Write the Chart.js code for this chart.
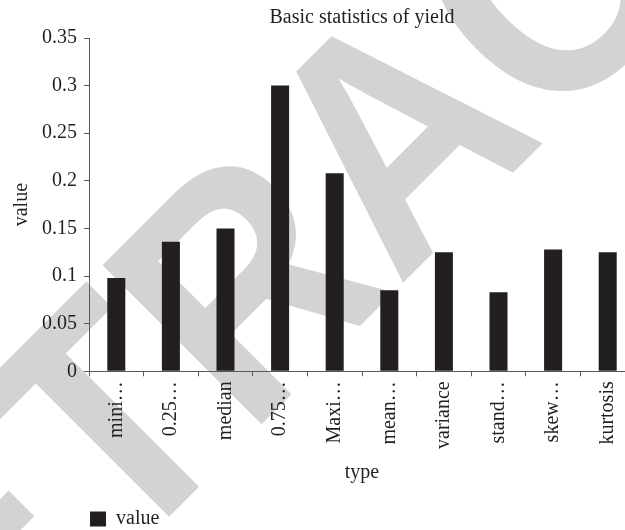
<!DOCTYPE html>
<html>
<head>
<meta charset="utf-8">
<script src="https://cdn.jsdelivr.net/npm/chart.js@4.4.1/dist/chart.umd.min.js"></script>
<style>
  html, body { margin: 0; padding: 0; background: #ffffff; overflow: hidden; width: 625px; height: 530px; }
  canvas { display: block; }
</style>
</head>
<body>
<canvas id="c" width="640" height="530"></canvas>
<script>
// ---- data ----
const categories = ['mini…', '0.25…', 'median', '0.75…', 'Maxi…', 'mean…', 'variance', 'stand…', 'skew…', 'kurtosis'];
const values = [0.098, 0.136, 0.150, 0.300, 0.208, 0.085, 0.125, 0.083, 0.128, 0.125];
const yTicks = [0, 0.05, 0.1, 0.15, 0.2, 0.25, 0.3, 0.35];
const yTickLabels = ['0', '0.05', '0.1', '0.15', '0.2', '0.25', '0.3', '0.35'];
const seriesName = 'value';
const chartTitle = 'Basic statistics of yield';
const xTitle = 'type';
const yTitle = 'value';
const watermarkText = 'RETRACTED';

const ink = '#231f20';
const axisColor = '#595959';

Chart.defaults.font.family = "'Liberation Serif', 'Times New Roman', serif";
Chart.defaults.font.size = 20;
Chart.defaults.color = ink;

const watermark = {
  id: 'watermark',
  beforeDraw(chart) {
    const ctx = chart.ctx;
    ctx.save();
    ctx.fillStyle = 'rgb(211,211,211)';
    ctx.font = "bold 327px 'Liberation Sans', Arial, sans-serif";
    ctx.textAlign = 'center';
    ctx.textBaseline = 'alphabetic';
    ctx.rotate(-Math.PI / 4);
    ctx.scale(0.9, 1);
    ctx.fillText(watermarkText, 184 / 0.9, 485);
    ctx.restore();
  }
};

new Chart(document.getElementById('c'), {
  type: 'bar',
  data: {
    labels: categories,
    datasets: [{
      label: seriesName,
      data: values,
      backgroundColor: ink,
      borderWidth: 0,
      barPercentage: 0.33,
      categoryPercentage: 1.0
    }]
  },
  options: {
    responsive: false,
    devicePixelRatio: 1,
    animation: false,
    layout: { padding: { left: 4, right: 5, top: 0, bottom: -9 } },
    plugins: {
      title: {
        display: true,
        text: chartTitle,
        fullSize: false,
        color: ink,
        font: { size: 20, weight: 'normal' },
        padding: { top: 6, bottom: 8 }
      },
      legend: {
        display: true,
        position: 'bottom',
        align: 'start',
        fullSize: false,
        labels: {
          boxWidth: 16,
          boxHeight: 15,
          padding: 1,
          color: ink,
          font: { size: 20 }
        }
      },
      tooltip: { enabled: false }
    },
    scales: {
      x: {
        offset: true,
        border: { display: true, color: axisColor, width: 1 },
        grid: { display: true, offset: true, drawOnChartArea: false, drawTicks: true, tickLength: 5, color: axisColor },
        ticks: { autoSkip: false, minRotation: 90, maxRotation: 90, padding: 5, color: ink, font: { size: 20 } },
        title: { display: true, text: xTitle, color: ink, font: { size: 20 }, padding: { top: 7, bottom: 23 } }
      },
      y: {
        min: 0,
        max: 0.35,
        afterBuildTicks(scale) { scale.ticks = yTicks.map(v => ({ value: v })); },
        border: { display: true, color: axisColor, width: 1 },
        grid: { display: true, drawOnChartArea: false, drawTicks: true, tickLength: 5, color: axisColor },
        ticks: {
          padding: 7,
          color: ink,
          font: { size: 20 },
          callback(value, index) { return yTickLabels[index]; }
        },
        title: { display: true, text: yTitle, color: ink, font: { size: 20 }, padding: { top: 6, bottom: 1 } }
      }
    }
  },
  plugins: [watermark]
});
</script>
</body>
</html>
